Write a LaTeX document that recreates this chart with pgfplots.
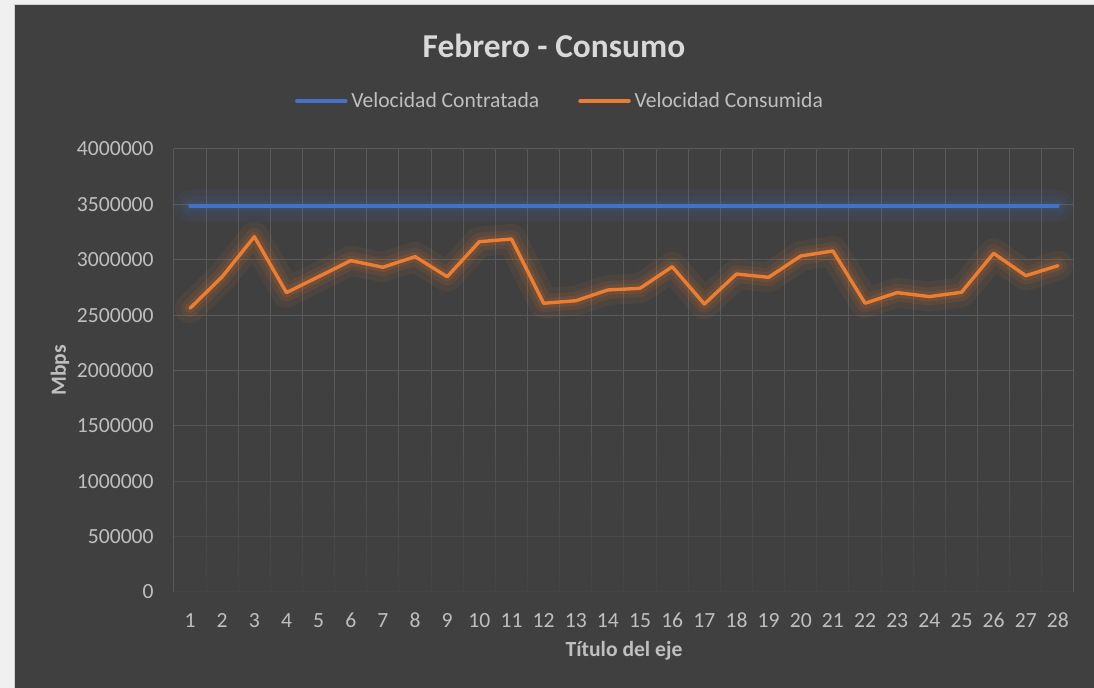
\documentclass[border=0pt]{standalone}
\usepackage{fontspec}
\setmainfont{Carlito}
\usepackage{pgfplots}
\usepackage{pgfplotstable}
\pgfplotsset{compat=1.18}
\usetikzlibrary{fadings}
\definecolor{bgdark}{HTML}{404040}
\definecolor{gridc}{HTML}{5A5A5A}
\definecolor{txt}{HTML}{BFBFBF}
\definecolor{ttl}{HTML}{D9D9D9}
\definecolor{cblue}{HTML}{4472C4}
\definecolor{corange}{HTML}{ED7D31}

\pgfplotstableread{
x blue orange
1 3485000 2562000
2 3485000 2847000
3 3485000 3208000
4 3485000 2703000
5 3485000 2847000
6 3485000 2992000
7 3485000 2932000
8 3485000 3028000
9 3485000 2847000
10 3485000 3163000
11 3485000 3187000
12 3485000 2607000
13 3485000 2630000
14 3485000 2727000
15 3485000 2742000
16 3485000 2937000
17 3485000 2600000
18 3485000 2871000
19 3485000 2841000
20 3485000 3034000
21 3485000 3079000
22 3485000 2607000
23 3485000 2703000
24 3485000 2667000
25 3485000 2706000
26 3485000 3058000
27 3485000 2856000
28 3485000 2946000
}\datatable

\begin{document}
\begin{tikzpicture}
\useasboundingbox (0,0) rectangle (547pt,344pt);
\fill[white!94!black] (0,0) rectangle (547pt,344pt);
\fill[bgdark] (7pt,0) rectangle (547pt,341.5pt);
\draw[white!82!black, line width=0.5pt] (7pt,0) -- (7pt,341.5pt) -- (547pt,341.5pt);
\begin{axis}[
  at={(87pt,48pt)}, anchor=south west,
  scale only axis, width=450pt, height=221.5pt,
  xmin=0.5, xmax=28.5, ymin=0, ymax=4000000,
  scaled y ticks=false,
  xtick={1,...,28},
  minor xtick={0.5,1.5,...,28.5},
  ytick={0,500000,1000000,1500000,2000000,2500000,3000000,3500000,4000000},
  yticklabels={0,500000,1000000,1500000,2000000,2500000,3000000,3500000,4000000},
  xmajorgrids=false, xminorgrids=true, ymajorgrids=true,
  major grid style={gridc, line width=0.5pt},
  minor grid style={gridc, line width=0.5pt},
  axis line style={draw=none},
  major tick length=0pt, minor tick length=0pt,
  tick style={draw=none},
  /pgf/number format/assume math mode=true,
  ticklabel style={text=txt, font=\fontsize{10.8pt}{13pt}\selectfont},
  xticklabel style={inner sep=0pt, anchor=base, yshift=-18pt},
  yticklabel style={inner sep=0pt, anchor=east, xshift=-10pt},
  xlabel={Título del eje},
  xlabel style={at={(axis description cs:0.5,-0.1332)}, anchor=center, text=txt, font=\bfseries\fontsize{10.8pt}{13pt}\selectfont},
  ylabel={Mbps},
  ylabel style={at={(axis description cs:-0.1267,0.5)}, anchor=center, rotate=0, text=txt, font=\bfseries\fontsize{10.8pt}{13pt}\selectfont},
  title={Febrero - Consumo},
  title style={at={(axis description cs:0.4222,1.2054)}, anchor=center, text=ttl, font=\bfseries\fontsize{16.7pt}{20pt}\selectfont},
  legend columns=2,
  legend style={at={(axis description cs:0.4278,1.108)}, anchor=center, draw=none, fill=none, text=txt,
    font=\fontsize{10.8pt}{13pt}\selectfont, inner sep=0pt,
    nodes={inner sep=0pt},
    column sep=2pt,
    /tikz/every even column/.append style={column sep=19.5pt}},
  legend image code/.code={\draw[#1, line width=1.7pt] (0pt,0pt) -- (24.5pt,0pt);},
]
\fill[bgdark, path fading=north] (axis cs:0.5,-300000) rectangle (axis cs:28.5,1900000);
% glow layers
\addplot[forget plot, cblue, opacity=0.07, line width=16pt, line join=round, line cap=round] table[x=x,y=blue]{\datatable};
\addplot[forget plot, cblue, opacity=0.09, line width=10pt, line join=round, line cap=round] table[x=x,y=blue]{\datatable};
\addplot[forget plot, cblue, opacity=0.11, line width=5pt, line join=round, line cap=round] table[x=x,y=blue]{\datatable};
\addplot[forget plot, corange, opacity=0.07, line width=15pt, line join=round, line cap=round] table[x=x,y=orange]{\datatable};
\addplot[forget plot, corange, opacity=0.09, line width=9pt, line join=round, line cap=round] table[x=x,y=orange]{\datatable};
\addplot[forget plot, corange, opacity=0.12, line width=5pt, line join=round, line cap=round] table[x=x,y=orange]{\datatable};
% main lines
\addplot[cblue, line width=1.7pt, line join=round, line cap=round] table[x=x,y=blue]{\datatable};
\addlegendentry{Velocidad Contratada}
\addplot[corange, line width=1.7pt, line join=round, line cap=round] table[x=x,y=orange]{\datatable};
\addlegendentry{Velocidad Consumida}
\end{axis}
\end{tikzpicture}
\end{document}
